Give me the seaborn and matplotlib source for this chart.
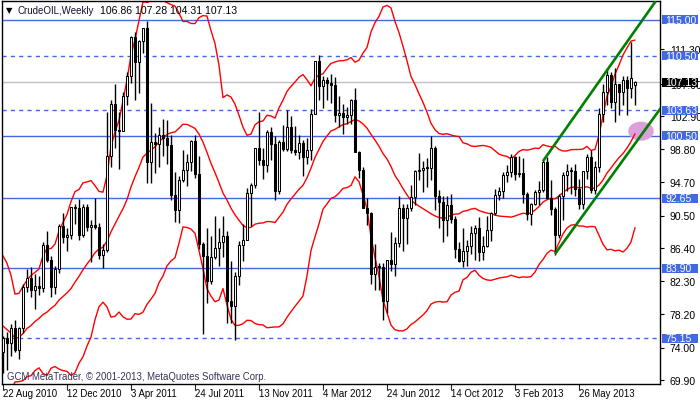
import numpy as np
import pandas as pd
import matplotlib
matplotlib.use("Agg")
import matplotlib.pyplot as plt
import seaborn as sns
from matplotlib.patches import Ellipse, Rectangle
from matplotlib.transforms import blended_transform_factory

sns.set_style("white")
FONT = ['Liberation Sans Narrow', 'Liberation Sans', 'DejaVu Sans']
plt.rcParams['font.family'] = FONT

# ---------------- data (weekly CrudeOIL, one bar per week from 22 Aug 2010) -------------
warmup_close = [83.24, 85.12, 86.15, 75.11, 71.61, 70.04, 74.00, 71.51, 73.78, 77.18,
                78.86, 72.14, 76.09, 76.01, 78.98, 78.95, 80.70, 75.39, 73.46]

opens = [73.46, 75.20, 74.60, 76.45, 73.66, 76.49, 81.58, 82.66, 81.25, 81.69,
         81.43, 86.85, 84.88, 81.51, 83.76, 89.19, 87.79, 88.02, 91.51, 91.38,
         88.03, 91.54, 89.11, 89.34, 89.03, 85.58, 86.20, 97.88, 104.42, 101.16,
         101.07, 105.40, 107.94, 112.79, 109.66, 112.29, 113.93, 97.18, 99.65, 99.49,
         100.59, 100.22, 99.29, 93.01, 91.16, 94.94, 96.20, 97.24, 99.87, 95.70,
         86.88, 85.38, 82.26, 85.37, 86.45, 87.24, 87.96, 79.85, 79.20, 82.98,
         86.80, 87.40, 93.32, 94.26, 98.99, 97.41, 96.77, 100.96, 99.41, 93.53,
         99.68, 98.83, 101.56, 98.70, 98.46, 99.56, 97.84, 98.67, 103.24, 109.77,
         106.70, 107.40, 107.06, 106.87, 103.02, 103.31, 102.83, 103.05, 104.93, 98.49,
         96.13, 91.48, 90.86, 83.23, 84.10, 84.03, 79.76, 84.96, 84.45, 87.10,
         91.44, 90.13, 91.40, 92.87, 96.01, 96.15, 96.47, 96.42, 99.00, 92.89,
         92.19, 89.88, 91.86, 90.05, 86.28, 84.86, 86.07, 86.67, 88.28, 88.91,
         85.93, 86.73, 88.66, 90.80, 93.09, 93.56, 95.56, 95.88, 97.77, 95.72,
         95.86, 93.13, 90.68, 91.95, 93.45, 93.71, 97.23, 92.70, 91.29, 88.01,
         93.00, 95.61, 96.04, 96.02, 93.84, 91.97, 96.03, 97.85, 93.69, 96.56,
         103.22, 105.95, 108.05, 104.70, 106.94, 105.97, 107.46, 106.42, 106.86]

highs = [75.45, 75.90, 77.00, 77.40, 76.60, 81.90, 83.80, 84.10, 83.20, 83.00,
         87.20, 88.60, 85.40, 84.20, 89.40, 90.80, 89.00, 91.60, 91.90, 92.60,
         92.00, 92.00, 89.90, 92.70, 89.60, 87.00, 103.40, 104.90, 106.90, 103.40,
         106.00, 108.50, 113.00, 113.50, 112.40, 113.90, 114.80, 104.60, 100.80, 101.60,
         102.60, 102.40, 100.60, 96.00, 95.50, 98.70, 98.20, 100.00, 100.60, 97.90,
         87.20, 89.00, 88.00, 90.50, 89.00, 90.50, 88.60, 84.80, 83.40, 87.30,
         89.40, 94.00, 94.60, 99.00, 103.40, 99.00, 101.20, 101.60, 100.40, 100.00,
         101.80, 103.70, 103.00, 101.70, 100.60, 99.90, 100.20, 103.80, 109.80, 110.55,
         108.00, 107.80, 108.20, 107.80, 105.50, 104.50, 104.10, 105.10, 106.40, 98.60,
         96.60, 92.70, 91.00, 87.00, 84.60, 84.60, 85.00, 88.40, 87.80, 92.90,
         91.90, 92.00, 94.30, 96.20, 98.30, 97.30, 97.70, 100.40, 99.20, 93.70,
         92.90, 93.00, 93.20, 90.50, 87.20, 89.00, 87.40, 89.20, 89.30, 90.30,
         87.90, 90.50, 91.00, 93.80, 94.10, 96.00, 96.80, 98.20, 98.00, 98.00,
         97.70, 93.50, 92.10, 93.70, 94.80, 97.40, 97.80, 95.00, 91.60, 93.20,
         96.00, 96.90, 96.60, 96.90, 95.10, 96.10, 98.20, 98.70, 97.30, 104.00,
         107.00, 108.90, 108.40, 108.90, 107.00, 108.00, 107.90, 112.20, 107.28]

lows = [70.76, 71.20, 73.00, 73.50, 72.60, 75.80, 80.90, 80.30, 78.80, 80.60,
        80.90, 84.70, 80.30, 80.70, 83.30, 87.10, 86.10, 87.60, 89.40, 87.40,
        87.80, 88.60, 84.70, 88.80, 85.10, 83.90, 86.00, 96.60, 99.00, 96.30,
        101.10, 104.30, 107.10, 105.00, 105.80, 110.80, 94.60, 94.60, 95.80, 96.60,
        98.00, 97.00, 92.50, 89.70, 89.60, 94.70, 94.20, 96.10, 95.20, 86.30,
        75.70, 79.60, 82.00, 85.10, 84.20, 85.30, 77.10, 77.10, 74.95, 81.80,
        84.80, 87.40, 89.20, 94.00, 96.80, 95.10, 96.00, 97.50, 92.50, 93.20,
        98.60, 98.60, 98.30, 98.10, 97.60, 95.40, 97.00, 97.50, 103.20, 104.90,
        104.00, 104.90, 104.60, 102.20, 101.60, 100.70, 101.90, 101.90, 98.40, 95.20,
        91.40, 89.30, 82.00, 81.20, 81.20, 77.50, 78.30, 83.60, 83.00, 86.60,
        86.10, 86.90, 91.10, 91.80, 94.90, 93.50, 94.10, 94.90, 91.20, 89.00,
        87.20, 88.00, 89.60, 85.20, 84.70, 84.10, 84.20, 85.70, 84.90, 84.80,
        84.90, 86.60, 87.30, 90.60, 92.40, 92.70, 94.70, 95.30, 94.90, 95.30,
        92.10, 90.00, 89.30, 91.80, 91.80, 93.50, 92.60, 90.60, 85.60, 87.70,
        90.00, 93.60, 93.20, 92.90, 91.30, 91.30, 95.10, 93.30, 93.20, 96.00,
        102.20, 104.30, 103.90, 102.20, 103.10, 104.30, 103.10, 105.20, 104.31]

closes = [75.17, 74.60, 76.45, 73.66, 76.49, 81.58, 82.66, 81.25, 81.69, 81.43,
          86.85, 84.88, 81.51, 83.76, 89.19, 87.79, 88.02, 91.51, 91.38, 88.03,
          91.54, 89.11, 89.34, 89.03, 85.58, 86.20, 97.88, 104.42, 101.16, 101.07,
          105.40, 107.94, 112.79, 109.66, 112.29, 113.93, 97.18, 99.65, 99.49, 100.59,
          100.22, 99.29, 93.01, 91.16, 94.94, 96.20, 97.24, 99.87, 95.70, 86.88,
          85.38, 82.26, 85.37, 86.45, 87.24, 87.96, 79.85, 79.20, 82.98, 86.80,
          87.40, 93.32, 94.26, 98.99, 97.41, 96.77, 100.96, 99.41, 93.53, 99.68,
          98.83, 101.56, 98.70, 98.46, 99.56, 97.84, 98.67, 103.24, 109.77, 106.70,
          107.40, 107.06, 106.87, 103.02, 103.31, 102.83, 103.05, 104.93, 98.49, 96.13,
          91.48, 90.86, 83.23, 84.10, 84.03, 79.76, 84.96, 84.45, 87.10, 91.44,
          90.13, 91.40, 92.87, 96.01, 96.15, 96.47, 96.42, 99.00, 92.89, 92.19,
          89.88, 91.86, 90.05, 86.28, 84.86, 86.07, 86.67, 88.28, 88.91, 85.93,
          86.73, 88.66, 90.80, 93.09, 93.56, 95.56, 95.88, 97.77, 95.72, 95.86,
          93.13, 90.68, 91.95, 93.45, 93.71, 97.23, 92.70, 91.29, 88.01, 93.00,
          95.61, 96.04, 96.02, 93.84, 91.97, 96.03, 97.85, 93.69, 96.56, 103.22,
          105.95, 108.05, 104.70, 106.94, 105.97, 107.46, 106.42, 107.65, 107.13]

date_labels = ['22 Aug 2010', '12 Dec 2010', '3 Apr 2011', '24 Jul 2011', '13 Nov 2011',
               '4 Mar 2012', '24 Jun 2012', '14 Oct 2012', '3 Feb 2013', '26 May 2013']
date_label_bars = [0, 16, 32, 48, 64, 80, 96, 112, 128, 144]

price_ticks = [69.90, 74.00, 78.20, 82.30, 86.40, 90.50, 94.70, 98.80, 102.90, 107.00, 111.30]
solid_levels = [115.00, 100.50, 92.65, 83.90]
dashed_levels = [110.50, 103.63, 75.15]
current_price = 107.13

chan_upper_x = [135, 163.2]
chan_upper_y = [97.3, 117.3]
chan_lower_x = [138, 164.4]
chan_lower_y = [85.69, 103.9]

ellipse_center = (159.5, 101.04)
ellipse_size = (6.4, 2.38)

header_symbol = "CrudeOIL,Weekly"
header_values = "106.86 107.28 104.31 107.13"
copyright_text = "GCM MetaTrader, \u00a9 2001-2013, MetaQuotes Software Corp."

# ---------------- derived frames ----------------
n = len(closes)
df = pd.DataFrame({'bar': np.arange(n), 'open': opens, 'high': highs,
                   'low': lows, 'close': closes})
allc = pd.Series(warmup_close + closes)
mid = allc.rolling(20).mean()
sd = allc.rolling(20).std(ddof=0)
df['bb_mid'] = mid.iloc[-n:].values
df['bb_up'] = (mid + 2 * sd).iloc[-n:].values
df['bb_lo'] = (mid - 2 * sd).iloc[-n:].values

# ---------------- figure ----------------
W, H = 700, 402
fig = plt.figure(figsize=(W / 100, H / 100), dpi=100)
fig.patch.set_facecolor('white')
ax_left, ax_right, ax_top, ax_bot = 2, 660, 2, 384.5
ax = fig.add_axes([ax_left / W, (H - ax_bot) / H, (ax_right - ax_left) / W, (ax_bot - ax_top) / H])
ax.set_facecolor('white')

BLUE = '#4169E1'
for lv in solid_levels:
    ax.axhline(lv, color=BLUE, lw=1.0, zorder=1)
for lv in dashed_levels:
    ax.axhline(lv, color=BLUE, lw=1.0, ls=(0, (3, 3)), zorder=1)
ax.axhline(current_price, color='#C0C0C0', lw=1.0, zorder=1)

ax.add_patch(Ellipse(ellipse_center, ellipse_size[0], ellipse_size[1],
                     facecolor='#DDA0DD', edgecolor='none', zorder=1.5))

# Bollinger bands
for col in ['bb_up', 'bb_mid', 'bb_lo']:
    sns.lineplot(data=df, x='bar', y=col, color='#FF0000', lw=1.0, ax=ax, zorder=2)

# candles
up = df['close'] >= df['open']
ax.vlines(df['bar'], df['low'], df['high'], color='black', lw=1.0, zorder=3)
body_bottom = np.minimum(df['open'], df['close'])
body_h = np.maximum((df['close'] - df['open']).abs(), 0.12)
ax.bar(df['bar'], body_h, bottom=body_bottom, width=0.6,
       color=np.where(up, 'white', 'black'), edgecolor='black', linewidth=0.75, zorder=4)

# channel lines
ax.plot(chan_upper_x, chan_upper_y, color='#008000', lw=1.9, zorder=5, solid_capstyle='butt')
ax.plot(chan_lower_x, chan_lower_y, color='#008000', lw=1.9, zorder=5, solid_capstyle='butt')

# limits (pixel mapping: 4 px per bar, 8 px per price unit)
y_px_ref, p_ref = 381.3, 69.90
ax.set_ylim(p_ref - (ax_bot - y_px_ref) / 8.0, p_ref + (y_px_ref - ax_top) / 8.0)
ax.set_xlim((ax_left - 3) / 4.0, (ax_right - 3) / 4.0)
ax.set_xlabel('')
ax.set_ylabel('')

for s in ax.spines.values():
    s.set_color('black')
    s.set_linewidth(1.0)
    s.set_visible(True)

# y axis on right
ax.yaxis.tick_right()
ax.set_yticks(price_ticks)
ax.set_yticklabels([f"{v:.2f}" for v in price_ticks])
ax.tick_params(axis='y', which='major', direction='out', length=3, width=0.8,
               pad=4, labelsize=7.5, colors='black', right=True, left=False)

# x ticks
ax.set_xticks(date_label_bars)
ax.set_xticklabels([])
ax.tick_params(axis='x', direction='out', length=4, width=0.8, bottom=True)
tx = blended_transform_factory(ax.transData, fig.transFigure)
for b, lab in zip(date_label_bars, date_labels):
    ax.text(b + 0.05, (H - 394) / H, lab, transform=tx, ha='left', va='center',
            fontsize=6.9, color='black', clip_on=False)

# boxed price labels
ty = blended_transform_factory(fig.transFigure, ax.transData)
box_h = 9.5 / 8.0
for lv, fc in [(v, BLUE) for v in solid_levels + dashed_levels] + [(current_price, 'black')]:
    ax.add_patch(Rectangle((662 / W, lv - box_h / 2), 36 / W, box_h, transform=ty,
                           facecolor=fc, edgecolor='none', clip_on=False, zorder=6))
    ax.text(665.5 / W, lv, f"{lv:.2f}", transform=ty, ha='left', va='center',
            fontsize=7.6, color='white', clip_on=False, zorder=7)

# header and copyright
fig.text(6 / W, 1 - 11 / H, "\u25bc", fontsize=6, ha='left', va='center',
         color='black', family=['DejaVu Sans'])
fig.text(18 / W, 1 - 11 / H, header_symbol, fontsize=7.0, ha='left', va='center', color='#111133')
fig.text(99.5 / W, 1 - 11 / H, header_values, fontsize=7.6, ha='left', va='center', color='black')
fig.text(7 / W, 1 - 377 / H, copyright_text, fontsize=6.9, ha='left', va='center', color='#333355')

fig.savefig('out.png', dpi=100, facecolor='white')
